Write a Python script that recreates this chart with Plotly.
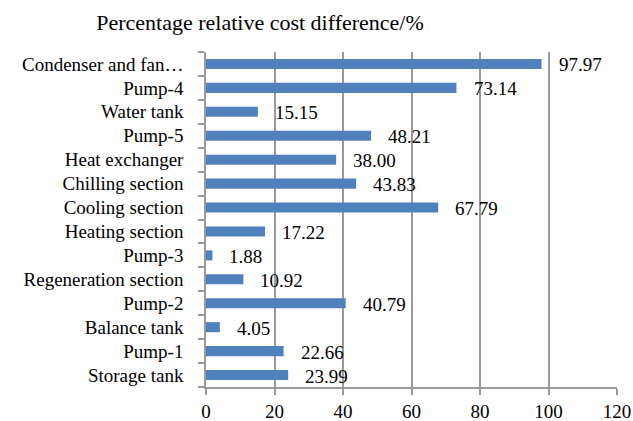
import plotly.graph_objects as go

# Components, listed bottom-to-top as they appear on the category axis
components = [
    "Storage tank", "Pump-1", "Balance tank", "Pump-2", "Regeneration section",
    "Pump-3", "Heating section", "Cooling section", "Chilling section",
    "Heat exchanger", "Pump-5", "Water tank", "Pump-4", "Condenser and fan…",
]
cost_diff_pct = [23.99, 22.66, 4.05, 40.79, 10.92, 1.88, 17.22, 67.79, 43.83,
                 38.00, 48.21, 15.15, 73.14, 97.97]
x_ticks = [0, 20, 40, 60, 80, 100, 120]

FONT = "Liberation Serif, Times New Roman, serif"
GRID = "#9a9a9a"

fig = go.Figure()
fig.add_trace(go.Bar(
    y=components, x=cost_diff_pct, orientation="h",
    marker=dict(color="#4F81BD", line=dict(width=0)),
    width=0.42, hoverinfo="x+y",
))

# Value labels just past the end of each bar
for name, v in zip(components, cost_diff_pct):
    fig.add_annotation(
        x=v, y=name, text=f"{v:.2f}", showarrow=False,
        xanchor="left", yanchor="middle", xshift=15, yshift=-1,
        font=dict(family=FONT, size=19, color="#000"),
    )

fig.update_layout(
    width=633, height=421,
    margin=dict(l=206, r=16, t=52, b=34, autoexpand=False),
    paper_bgcolor="white", plot_bgcolor="white",
    showlegend=False,
    font=dict(family=FONT, size=19, color="#000"),
    title=dict(
        text="Percentage relative cost difference/%",
        x=260 / 633, xanchor="center", y=1 - 22 / 421, yanchor="middle",
        font=dict(family=FONT, size=22, color="#000"),
    ),
    bargap=0.58,
)

fig.update_xaxes(
    range=[0, 120], tickvals=x_ticks, ticktext=[str(t) for t in x_ticks],
    showgrid=True, gridcolor=GRID, gridwidth=1.5,
    showline=True, linecolor=GRID, linewidth=1.5,
    ticks="outside", ticklen=6, tickcolor=GRID, tickwidth=1.5,
    zeroline=False, fixedrange=True, automargin=False,
    tickfont=dict(family=FONT, size=19, color="#000"),
)

fig.update_yaxes(
    type="category", categoryorder="array", categoryarray=components,
    range=[-0.5, len(components) - 0.5],
    showline=True, linecolor=GRID, linewidth=1.5,
    ticks="outside", ticklen=6, tickcolor=GRID, tickwidth=1.5,
    tickson="boundaries", showgrid=False, zeroline=False,
    ticklabelstandoff=17, fixedrange=True, automargin=False,
    tickfont=dict(family=FONT, size=19, color="#000"),
)

fig.write_html("out.html")
